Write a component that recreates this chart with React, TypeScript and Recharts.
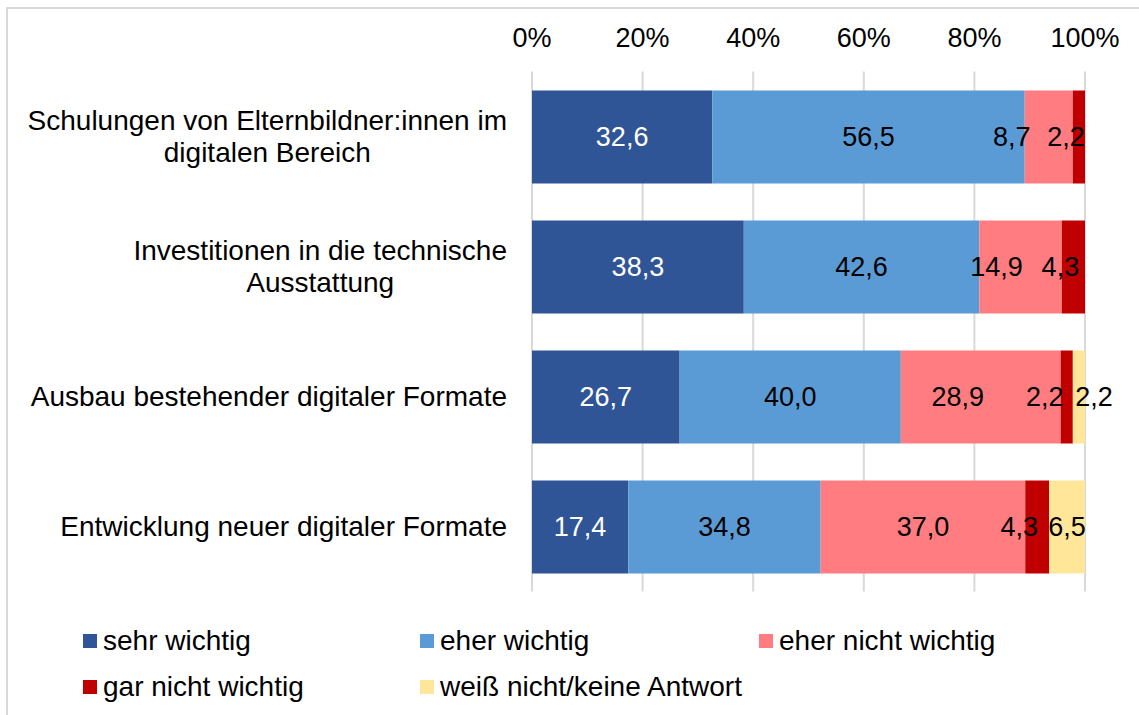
import React from "react";
import { BarChart, Bar, XAxis, YAxis, CartesianGrid, LabelList } from "recharts";

const categories = [
  "Schulungen von Elternbildner:innen im\ndigitalen Bereich",
  "Investitionen in die technische\nAusstattung",
  "Ausbau bestehender digitaler Formate",
  "Entwicklung neuer digitaler Formate",
];
const sehrWichtig = [32.6, 38.3, 26.7, 17.4];
const eherWichtig = [56.5, 42.6, 40.0, 34.8];
const eherNichtWichtig = [8.7, 14.9, 28.9, 37.0];
const garNichtWichtig = [2.2, 4.3, 2.2, 4.3];
const weissNicht = [0, 0, 2.2, 6.5];
const xTicks = [0, 20, 40, 60, 80, 100];

const seriesNames = [
  "sehr wichtig",
  "eher wichtig",
  "eher nicht wichtig",
  "gar nicht wichtig",
  "weiß nicht/keine Antwort",
];

const FONT = '"Liberation Sans", Arial, sans-serif';
const FS = 27;
const CAT_FS = 28;

const data = categories.map((c, i) => ({
  name: c,
  s1: sehrWichtig[i],
  s2: eherWichtig[i],
  s3: eherNichtWichtig[i],
  s4: garNichtWichtig[i],
  s5: weissNicht[i],
}));

const series = [
  { key: "s1", name: seriesNames[0], color: "#2F5597", text: "#FFFFFF", dx: [0, 0, 0, 0] },
  { key: "s2", name: seriesNames[1], color: "#5B9BD5", text: "#000000", dx: [0, 0, 0, 0] },
  { key: "s3", name: seriesNames[2], color: "#FF7C80", text: "#000000", dx: [-37, -24, -23, 0] },
  { key: "s4", name: seriesNames[3], color: "#C00000", text: "#000000", dx: [-13, -13, -22, -18] },
  { key: "s5", name: seriesNames[4], color: "#FFE699", text: "#000000", dx: [0, 0, 15, 0] },
];

const PLOT_TOP = 41.5 + 30;
const BAND = 130;

const fmt = (v: number) => v.toFixed(1).replace(".", ",");

let ctx: CanvasRenderingContext2D | null = null;
const measure = (t: string) => {
  if (!ctx) {
    const c = document.createElement("canvas");
    ctx = c.getContext("2d");
  }
  if (!ctx) return t.length * CAT_FS * 0.5;
  ctx.font = `${CAT_FS}px "Liberation Sans", Arial, sans-serif`;
  return ctx.measureText(t).width;
};

const makeLabel = (color: string, dx: number[]) => (props: any) => {
  const vb = props.viewBox || {};
  const x = vb.x ?? props.x;
  const y = vb.y ?? props.y;
  const w = vb.width ?? props.width;
  const h = vb.height ?? props.height;
  const v = Number(props.value);
  if (!v) return null;
  const row = Math.max(0, Math.min(3, Math.floor((y + h / 2 - PLOT_TOP) / BAND)));
  return (
    <text
      x={x + w / 2 + (dx[row] || 0)}
      y={y + h / 2}
      textAnchor="middle"
      dominantBaseline="central"
      fill={color}
      fontSize={FS}
      fontFamily={FONT}
    >
      {fmt(v)}
    </text>
  );
};

const CategoryTick = (props: any) => {
  const { y, payload } = props;
  const lines: string[] = String(payload.value).split("\n");
  const widths = lines.map(measure);
  const maxW = Math.max(...widths);
  const right = 507;
  const cx = right - maxW / 2;
  const lh = 32;
  const start = y - ((lines.length - 1) * lh) / 2;
  return (
    <g>
      {lines.map((l, i) => (
        <text
          key={i}
          x={cx}
          y={start + i * lh}
          textAnchor="middle"
          dominantBaseline="central"
          fill="#000"
          fontSize={CAT_FS}
          fontFamily={FONT}
        >
          {l}
        </text>
      ))}
    </g>
  );
};

const legendPos = [
  { left: 83, top: 641 },
  { left: 420, top: 641 },
  { left: 759, top: 641 },
  { left: 83, top: 687 },
  { left: 420, top: 687 },
];

export default function App() {
  return (
    <div
      style={{
        position: "absolute",
        left: 0,
        top: 0,
        width: 1139,
        height: 715,
        overflow: "hidden",
        background: "#fff",
        fontFamily: FONT,
      }}
    >
      <div
        style={{
          position: "absolute",
          left: 6,
          top: 7,
          width: 1300,
          height: 900,
          borderLeft: "2px solid #d9d9d9",
          borderTop: "2px solid #d9d9d9",
        }}
      />
      <div style={{ position: "absolute", left: 0, top: 0 }}>
        <BarChart
          width={1139}
          height={715}
          data={data}
          layout="vertical"
          margin={{ top: 41.5, right: 54, bottom: 123.5, left: 0 }}
          barSize={93}
        >
          <CartesianGrid horizontal={false} stroke="#d9d9d9" strokeWidth={2} />
          <XAxis
            type="number"
            orientation="top"
            domain={[0, 100]}
            ticks={xTicks}
            allowDataOverflow
            axisLine={false}
            tickLine={false}
            height={30}
            tickMargin={18.5}
            tickFormatter={(v: number) => `${v}%`}
            tick={{ fill: "#000", fontSize: FS, fontFamily: FONT }}
          />
          <YAxis
            type="category"
            dataKey="name"
            width={532}
            axisLine={false}
            tickLine={false}
            tick={<CategoryTick />}
            interval={0}
          />
          {series.map((s) => (
            <Bar
              key={s.key}
              dataKey={s.key}
              name={s.name}
              stackId="a"
              fill={s.color}
              isAnimationActive={false}
            >
              <LabelList dataKey={s.key} content={makeLabel(s.text, s.dx)} />
            </Bar>
          ))}
        </BarChart>
      </div>
      {series.map((s, i) => (
        <div
          key={s.key}
          style={{
            position: "absolute",
            left: legendPos[i].left,
            top: legendPos[i].top - 18,
            height: 36,
            display: "flex",
            alignItems: "center",
            whiteSpace: "nowrap",
          }}
        >
          <div style={{ width: 14, height: 14, background: s.color, marginRight: 6 }} />
          <span style={{ fontSize: CAT_FS, color: "#000", lineHeight: "36px" }}>{s.name}</span>
        </div>
      ))}
    </div>
  );
}
